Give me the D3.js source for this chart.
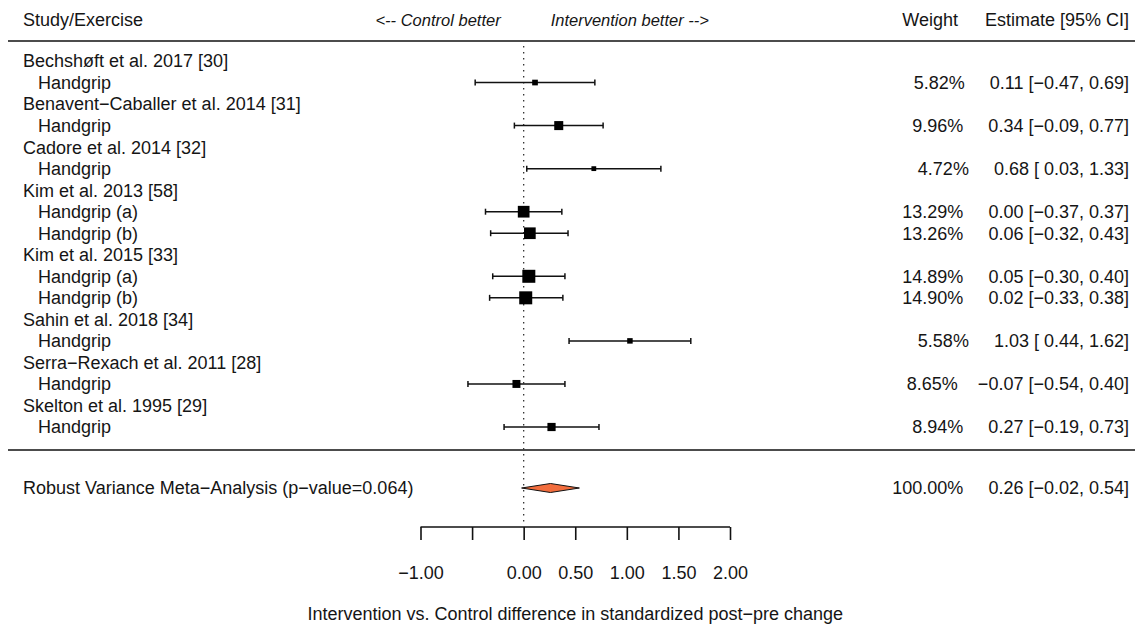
<!DOCTYPE html>
<html>
<head>
<meta charset="utf-8">
<script src="https://cdn.jsdelivr.net/npm/d3@7"></script>
<style>
  body { margin: 0; background: #fff; }
  text { font-family: "Liberation Sans", Arial, sans-serif; font-size: 18px; fill: #151515; white-space: pre; }
</style>
</head>
<body>
<div id="forest"></div>
<script>
// Data
var studyNames = ["Bechshøft et al. 2017 [30]", "Benavent−Caballer et al. 2014 [31]", "Cadore et al. 2014 [32]",
  "Kim et al. 2013 [58]", "Kim et al. 2015 [33]", "Sahin et al. 2018 [34]",
  "Serra−Rexach et al. 2011 [28]", "Skelton et al. 1995 [29]"];
var effectLabels = ["Handgrip", "Handgrip", "Handgrip", "Handgrip (a)", "Handgrip (b)",
  "Handgrip (a)", "Handgrip (b)", "Handgrip", "Handgrip", "Handgrip"];
var effectStudy = [0, 1, 2, 3, 3, 4, 4, 5, 6, 7];
var estimates = [0.11, 0.34, 0.68, 0.00, 0.06, 0.05, 0.02, 1.03, -0.07, 0.27];
var lower = [-0.47, -0.09, 0.03, -0.37, -0.32, -0.30, -0.33, 0.44, -0.54, -0.19];
var upper = [0.69, 0.77, 1.33, 0.37, 0.43, 0.40, 0.38, 1.62, 0.40, 0.73];
var weights = [5.82, 9.96, 4.72, 13.29, 13.26, 14.89, 14.90, 5.58, 8.65, 8.94];
var summary = {label: "Robust Variance Meta−Analysis (p−value=0.064)", est: 0.26, lo: -0.02, hi: 0.54, weight: 100};
var tickValues = [-1, -0.5, 0, 0.5, 1, 1.5, 2];
var tickLabels = ["−1.00", "", "0.00", "0.50", "1.00", "1.50", "2.00"];

var w = 1135, h = 628;

var svg = d3.select("#forest")
  .append("svg")
    .attr("width", w)
    .attr("height", h);

// x scale for effect sizes
var x = d3.scaleLinear()
  .domain([-1, 2])
  .range([420.5, 730]);

// build the rows: study heading followed by its effects
var rows = [];
studyNames.forEach(function(name, s) {
  rows.push({label: name, heading: true});
  effectStudy.forEach(function(st, i) {
    if (st === s) rows.push({label: effectLabels[i], heading: false, i: i});
  });
});

var y = d3.scaleLinear()
  .domain([0, rows.length - 1])
  .range([61, 427]);
var ySummary = 488;

function fmt(v, pad) {
  var s = Math.abs(v).toFixed(2);
  if (v < 0) return "−" + s;
  return (pad ? " " : "") + s;
}
var padEst = d3.min(estimates) < 0, padLo = d3.min(lower) < 0, padHi = d3.min(upper) < 0;
function annot(wt, e, l, u) {
  return wt.toFixed(2) + "%    " + fmt(e, padEst) + " [" + fmt(l, padLo) + ", " + fmt(u, padHi) + "]";
}

// header
svg.append("text").attr("x", 23).attr("y", 26).text("Study/Exercise");
svg.append("text").attr("x", x(0) - 23).attr("y", 26)
  .attr("text-anchor", "end").style("font-style", "italic").style("font-size", "16.5px")
  .text("<-- Control better");
svg.append("text").attr("x", x(0) + 27).attr("y", 26)
  .style("font-style", "italic").style("font-size", "16.5px")
  .text("Intervention better -->");
svg.append("text").attr("x", 958).attr("y", 26).attr("text-anchor", "end").text("Weight");
svg.append("text").attr("x", 1129).attr("y", 26).attr("text-anchor", "end").text("Estimate [95% CI]");

// horizontal rules
[41, 450].forEach(function(yy) {
  svg.append("line")
    .attr("x1", 8).attr("x2", w)
    .attr("y1", yy).attr("y2", yy)
    .attr("stroke", "#111").attr("stroke-width", 1.6);
});

// reference line at zero
svg.append("line")
  .attr("x1", x(0)).attr("x2", x(0))
  .attr("y1", 46).attr("y2", 525)
  .attr("stroke", "#333").attr("stroke-width", 1.3)
  .attr("stroke-dasharray", "1.5,4.5");

// row labels
svg.selectAll(".rowlab")
  .data(rows)
  .enter()
  .append("text")
    .attr("class", "rowlab")
    .attr("x", function(d) { return d.heading ? 23 : 38; })
    .attr("y", function(d, k) { return y(k) + 6.4; })
    .text(function(d) { return d.label; });

var effRows = rows.map(function(d, k) { return {k: k, i: d.i, heading: d.heading}; })
  .filter(function(d) { return !d.heading; });

// annotations
svg.selectAll(".annot")
  .data(effRows)
  .enter()
  .append("text")
    .attr("class", "annot")
    .attr("x", 1129)
    .attr("y", function(d) { return y(d.k) + 6.4; })
    .attr("text-anchor", "end")
    .text(function(d) { return annot(weights[d.i], estimates[d.i], lower[d.i], upper[d.i]); });

// CI lines and caps
var ci = svg.selectAll(".ci")
  .data(effRows)
  .enter()
  .append("g")
    .attr("class", "ci")
    .attr("stroke", "#111")
    .attr("stroke-width", 1.5);
ci.append("line")
  .attr("x1", function(d) { return x(lower[d.i]); })
  .attr("x2", function(d) { return x(upper[d.i]); })
  .attr("y1", function(d) { return y(d.k); })
  .attr("y2", function(d) { return y(d.k); });
ci.append("line")
  .attr("x1", function(d) { return x(lower[d.i]); })
  .attr("x2", function(d) { return x(lower[d.i]); })
  .attr("y1", function(d) { return y(d.k) - 3; })
  .attr("y2", function(d) { return y(d.k) + 3; });
ci.append("line")
  .attr("x1", function(d) { return x(upper[d.i]); })
  .attr("x2", function(d) { return x(upper[d.i]); })
  .attr("y1", function(d) { return y(d.k) - 3; })
  .attr("y2", function(d) { return y(d.k) + 3; });

// squares sized by weight
var size = d3.scaleLinear()
  .domain(d3.extent(weights))
  .range([4.8, 13]);
svg.selectAll(".pt")
  .data(effRows)
  .enter()
  .append("rect")
    .attr("class", "pt")
    .attr("x", function(d) { return x(estimates[d.i]) - size(weights[d.i]) / 2; })
    .attr("y", function(d) { return y(d.k) - size(weights[d.i]) / 2; })
    .attr("width", function(d) { return size(weights[d.i]); })
    .attr("height", function(d) { return size(weights[d.i]); })
    .attr("fill", "#000");

// summary row
svg.append("text").attr("x", 23).attr("y", ySummary + 6.4).text(summary.label);
svg.append("text").attr("x", 1129).attr("y", ySummary + 6.4).attr("text-anchor", "end")
  .text(annot(summary.weight, summary.est, summary.lo, summary.hi));
svg.append("polygon")
  .attr("points", [
    [x(summary.lo), ySummary], [x(summary.est), ySummary - 4.5],
    [x(summary.hi), ySummary], [x(summary.est), ySummary + 4.5]
  ].map(function(p) { return p.join(","); }).join(" "))
  .attr("fill", "#F26D3D")
  .attr("stroke", "#111")
  .attr("stroke-width", 1);

// X axis
var axis = svg.append("g")
  .attr("transform", "translate(0,527)")
  .call(d3.axisBottom(x)
    .tickValues(tickValues)
    .tickSize(13)
    .tickPadding(26)
    .tickFormat(function(d, i) { return tickLabels[i]; }));
axis.select(".domain").attr("stroke", "#111").attr("stroke-width", 1.6)
  .attr("d", "M" + x(-1) + ",0H" + x(2));
axis.selectAll(".tick line").attr("stroke", "#111").attr("stroke-width", 1.6);
axis.selectAll(".tick text")
  .attr("fill", "#151515")
  .style("font-size", "18px")
  .style("font-family", "\"Liberation Sans\", Arial, sans-serif");

// X axis label
svg.append("text")
  .attr("text-anchor", "middle")
  .attr("x", x(0.5))
  .attr("y", 620)
  .text("Intervention vs. Control difference in standardized post−pre change");
</script>
</body>
</html>
